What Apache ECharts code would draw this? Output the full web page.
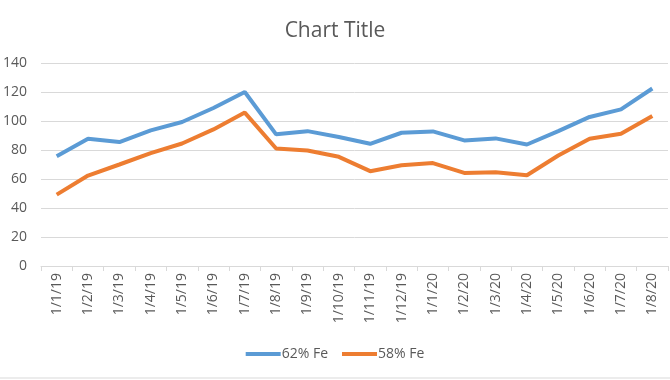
<!DOCTYPE html>
<html><head><meta charset="utf-8">
<script src="https://cdn.jsdelivr.net/npm/echarts@6/dist/echarts.min.js"></script>
<style>html,body{margin:0;padding:0;background:#fff}#c{width:670px;height:380px}</style>
</head><body><div id="c"></div>
<script>
const categories = ['1/1/19','1/2/19','1/3/19','1/4/19','1/5/19','1/6/19','1/7/19','1/8/19','1/9/19','1/10/19','1/11/19','1/12/19','1/1/20','1/2/20','1/3/20','1/4/20','1/5/20','1/6/20','1/7/20','1/8/20'];
const fe62 = [75.7,87.8,85.5,93.5,99.3,109,120,90.8,93,89,84.3,91.9,92.8,86.6,88,83.8,93,102.8,108,122.4];
const fe58 = [49.2,62.4,70,77.9,84.5,94.2,105.8,81,79.7,75.3,65.4,69.5,71,64.2,64.7,62.6,76.2,87.8,91.2,103.5];
const yTicks = {min:0, max:140, interval:20};
const font = 'Open Sans';
const chart = echarts.init(document.getElementById('c'));
chart.setOption({
  animation:false,
  title:{text:'Chart Title', left:'center', top:16, textStyle:{fontFamily:font, fontSize:21, fontWeight:'normal', color:'#595959'}},
  grid:{left:40, right:2, top:63, bottom:114},
  legend:{bottom:14, left:'center', itemWidth:35, itemHeight:4, itemGap:14, icon:'rect',
    textStyle:{fontFamily:font, fontSize:14, color:'#595959', padding:[0,0,0,-4]}},
  xAxis:{type:'category', data:categories, boundaryGap:true,
    axisLine:{lineStyle:{color:'#D9D9D9'}}, axisTick:{show:true, length:5, lineStyle:{color:'#D9D9D9'}},
    axisLabel:{rotate:90, interval:0, fontFamily:font, fontSize:14, color:'#595959', margin:7}},
  yAxis:{type:'value', min:yTicks.min, max:yTicks.max, interval:yTicks.interval,
    axisLine:{show:false}, axisTick:{show:false},
    splitLine:{lineStyle:{color:'#D9D9D9'}},
    axisLabel:{fontFamily:font, fontSize:14, color:'#595959', margin:14}},
  series:[
    {name:'62% Fe', type:'line', data:fe62, symbol:'none', lineStyle:{width:4, color:'#5B9BD5'}, itemStyle:{color:'#5B9BD5'}},
    {name:'58% Fe', type:'line', data:fe58, symbol:'none', lineStyle:{width:4, color:'#ED7D31'}, itemStyle:{color:'#ED7D31'}}
  ],
  graphic:[{type:'line', shape:{x1:0,y1:378,x2:670,y2:378}, style:{stroke:'#D9D9D9', lineWidth:1}}]
});
</script></body></html>
